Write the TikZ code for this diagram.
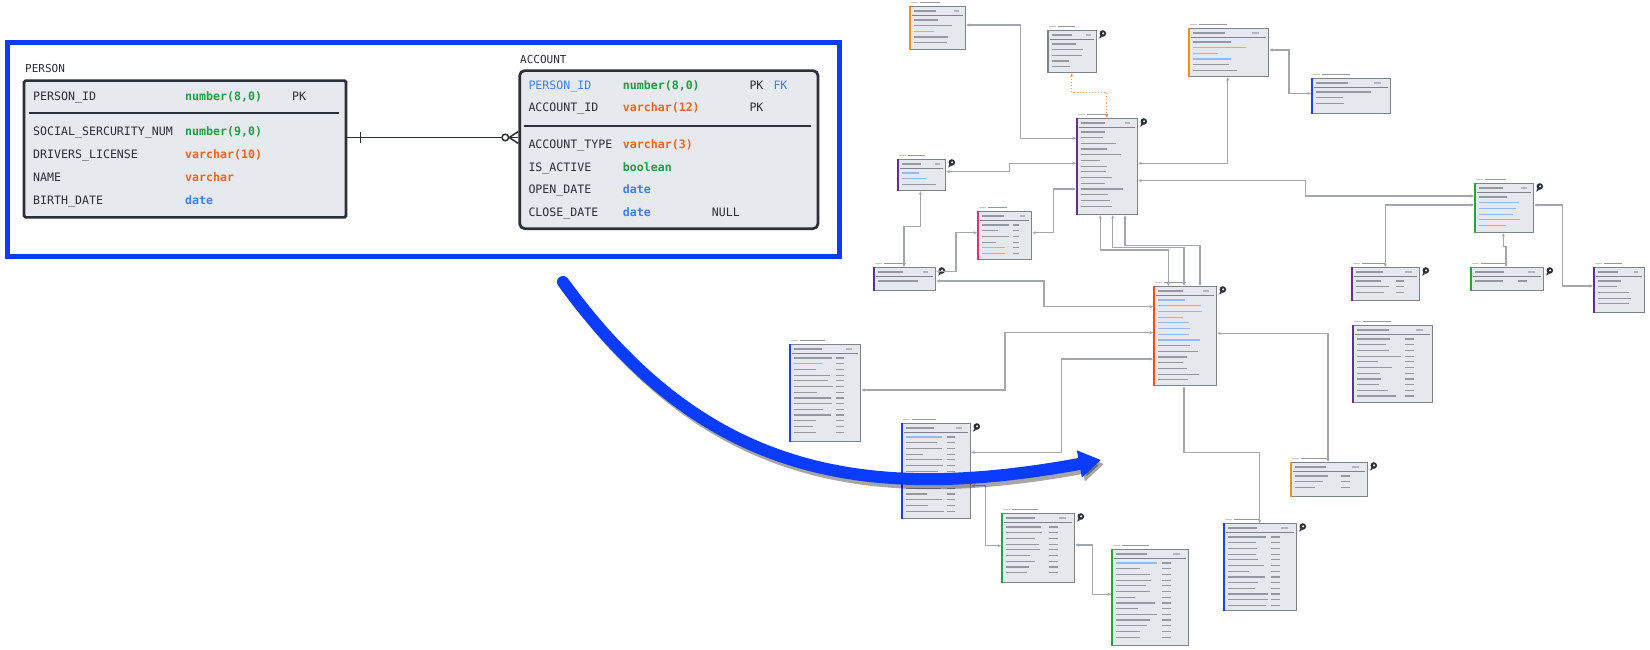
\documentclass[tikz,border=0pt]{standalone}
\usepackage{fontspec}
\usepackage{tikz}
\usetikzlibrary{arrows.meta, positioning, calc}
\newfontfamily\erfont{DejaVu Sans Mono}
\definecolor{FrameBlue}{HTML}{0A3CFF}
\definecolor{Ink}{HTML}{2B2F36}
\definecolor{BoxFill}{HTML}{E6EAEF}
\definecolor{TypeGreen}{HTML}{1E9E45}
\definecolor{TypeOrange}{HTML}{F0641E}
\definecolor{TypeBlue}{HTML}{3F7FF2}
\definecolor{MiniFill}{HTML}{E5E9ED}
\definecolor{MiniLine}{HTML}{7E838B}
\definecolor{RowGray}{HTML}{9499A0}
\definecolor{WireGray}{HTML}{A3A7AD}
\definecolor{Amber}{HTML}{F29111}
\definecolor{Plum}{HTML}{6B2A8F}
\definecolor{Magenta}{HTML}{D6338A}
\definecolor{Vermilion}{HTML}{F04E1E}
\definecolor{Leaf}{HTML}{2EA043}
\definecolor{Royal}{HTML}{1F3FE0}
\definecolor{Peach}{HTML}{F5A05A}

% mini table: name, corner, width, height, accent, type column, first/last blue row, bubble
\newcommand{\minitable}[9]{%
  \node[minitbl, minimum width=#3, minimum height=#4] (#1) at (#2) {};
  \fill[#5] (#1.north west) rectangle ([xshift=2.4]#1.south west);
  \draw[rowbar, draw=MiniLine!45] ([shift={(2,-3.5)}]#1.north west) -- ++(7,0);
  \draw[rowbar] ([shift={(11,-3.5)}]#1.north west) -- ++(0.35*#3,0);
  \draw[rowbar, line width=1.4] ([shift={(5,5)}]#1.north west) -- ++(0.4*#3,0);
  \draw[rowbar, draw=MiniLine!60] ([shift={(0.8*#3,5)}]#1.north west) -- ++(0.09*#3,0);
  \draw[MiniLine, line width=0.9] ([shift={(3,9)}]#1.north west) -- ([shift={(-3,9)}]#1.north east);
  \pgfmathtruncatemacro\nrows{(#4-18)/5.7+1}
  \foreach \r in {1,...,\nrows}{
    \pgfmathsetmacro\rowy{14+(\r-1)*5.7}
    \pgfmathsetmacro\barlen{(#6==1 ? 0.25+0.3*rnd : 0.3+0.4*rnd)*#3}
    \pgfmathtruncatemacro\bluerow{and(\r>=#7,\r<=#8)}
    \ifnum\bluerow=1 \def\rowcol{TypeBlue!55}\else\def\rowcol{RowGray}\fi
    \draw[rowbar, draw=\rowcol] ([shift={(5,\rowy)}]#1.north west) -- ++(\barlen,0);
    \ifnum#6=1 \draw[rowbar] ([shift={(0.66*#3,\rowy)}]#1.north west) -- ++(0.12*#3,0);\fi
  }
  \ifnum#9=1
    \fill[Ink] ([shift={(5.5,3.5)}]#1.north east) circle (3.3);
    \fill[Ink] ([shift={(3,5.5)}]#1.north east) -- ++(-1.2,3) -- ++(3.2,-1.6) -- cycle;
    \fill[white] ([shift={(5.8,3.3)}]#1.north east) circle (1.1);
  \fi
}

\begin{document}
\begin{tikzpicture}[x=1pt, y=-1pt,
    col/.style={font=\erfont\fontsize{11.6}{14}\selectfont, text=Ink, inner sep=0, anchor=base west},
    typ/.style={col, font=\erfont\bfseries\fontsize{11.6}{14}\selectfont},
    tag/.style={col, font=\erfont\fontsize{11}{13}\selectfont},
    erbox/.style={draw=Ink, line width=2.7, fill=BoxFill, inner sep=0, anchor=north west},
    relline/.style={draw=Ink, line width=1.5},
    minitbl/.style={draw=MiniLine, line width=1.3, fill=MiniFill, inner sep=0, anchor=north west, rectangle},
    rowbar/.style={draw=RowGray, line width=1.2},
    wire/.style={draw=WireGray, line width=1.1, arrows={Stealth[length=3.5pt,width=3.2pt]-Stealth[length=3.5pt,width=3.2pt]}},
    dotwire/.style={wire, draw=Peach, dotted, line width=1.2},
    sweep/.style={line width=12, line cap=round, -{Triangle[length=22pt,width=26pt]}}]
\useasboundingbox (0,0) rectangle (1650,650);
\pgfmathsetseed{42}

% Focus frame
\draw[FrameBlue, line width=5] (7,42.5) rectangle (839,256);

% PERSON
\node[tag] (person-lbl) at (25,72.7) {PERSON};
\node[erbox, rounded corners=1.5, minimum width=322, minimum height=136.7] (person) at (22.7,79.3) {};
\draw[Ink, line width=1.8] (29,113.3) -- (339,113.3);
\node[col] (p-id) at (33,101) {PERSON\_ID};
\node[typ, text=TypeGreen] (p-id-t) at (185,101) {number(8,0)};
\node[col] (p-id-k) at (292,101) {PK};
\node[col] (p-ssn) at (33,136) {SOCIAL\_SERCURITY\_NUM};
\node[typ, text=TypeGreen] (p-ssn-t) at (185,136) {number(9,0)};
\node[col] (p-dl) at (33,159) {DRIVERS\_LICENSE};
\node[typ, text=TypeOrange] (p-dl-t) at (185,159) {varchar(10)};
\node[col] (p-name) at (33,181.7) {NAME};
\node[typ, text=TypeOrange] (p-name-t) at (185,181.7) {varchar};
\node[col] (p-bd) at (33,204.3) {BIRTH\_DATE};
\node[typ, text=TypeBlue] (p-bd-t) at (185,204.3) {date};

% ACCOUNT
\node[tag] (account-lbl) at (520,63.3) {ACCOUNT};
\node[erbox, rounded corners=5, minimum width=298.4, minimum height=158] (account) at (518.3,69.3) {};
\draw[Ink, line width=1.8] (524,125.7) -- (811,125.7);
\node[col, text=TypeBlue] (a-pid) at (528.3,90) {PERSON\_ID};
\node[typ, text=TypeGreen] (a-pid-t) at (622.7,90) {number(8,0)};
\node[col] (a-pid-k) at (749.3,90) {PK};
\node[col, text=TypeBlue] (a-pid-f) at (773.3,90) {FK};
\node[col] (a-id) at (528.3,112) {ACCOUNT\_ID};
\node[typ, text=TypeOrange] (a-id-t) at (622.7,112) {varchar(12)};
\node[col] (a-id-k) at (749.3,112) {PK};
\node[col] (a-type) at (528.3,148.7) {ACCOUNT\_TYPE};
\node[typ, text=TypeOrange] (a-type-t) at (622.7,148.7) {varchar(3)};
\node[col] (a-act) at (528.3,171.3) {IS\_ACTIVE};
\node[typ, text=TypeGreen] (a-act-t) at (622.7,171.3) {boolean};
\node[col] (a-open) at (528.3,193.7) {OPEN\_DATE};
\node[typ, text=TypeBlue] (a-open-t) at (622.7,193.7) {date};
\node[col] (a-close) at (528.3,216.3) {CLOSE\_DATE};
\node[typ, text=TypeBlue] (a-close-t) at (622.7,216.3) {date};
\node[col] (a-close-n) at (711.7,216.3) {NULL};

% One-to-many relationship
\coordinate (rel-a) at (person.east |- 0,137.5);
\coordinate (rel-b) at (account.west |- 0,137.5);
\draw[relline] (rel-a) -- (rel-b);
\draw[relline] ([xshift=13]rel-a) ++(0,-5.5) -- ++(0,11);
\draw[relline] ([xshift=-9]rel-b) -- ([yshift=-6]rel-b) ([xshift=-9]rel-b) -- ([yshift=6]rel-b);
\draw[relline, fill=white] ([xshift=-13]rel-b) circle (3.3);

% Full schema
\minitable{t1}{909,6}{56}{43}{Amber}{0}{3}{3}{0}
\minitable{t2}{1047,30}{49}{42}{MiniLine}{0}{0}{0}{1}
\minitable{t3}{1188,28}{80}{48}{Amber}{0}{2}{4}{0}
\minitable{t4}{1076,118}{61}{96}{Plum}{0}{0}{0}{1}
\minitable{t5}{897,159}{48}{31}{Plum}{0}{1}{2}{1}
\minitable{t6}{977,211}{54}{48}{Magenta}{1}{5}{6}{0}
\minitable{t7}{873,267}{62}{23}{Plum}{0}{0}{0}{1}
\minitable{t8}{1153,286}{63}{99}{Vermilion}{0}{1}{8}{1}
\minitable{t9}{1351,267}{68}{33}{Plum}{1}{0}{0}{1}
\minitable{t10}{1470,267}{73}{23}{Leaf}{1}{0}{0}{1}
\minitable{t11}{1593,267}{51}{45}{Plum}{0}{0}{0}{0}
\minitable{t12}{1352,325}{80}{77}{Plum}{1}{0}{0}{0}
\minitable{t13}{1290,462}{77}{34}{Amber}{1}{0}{0}{1}
\minitable{t14}{1474,183}{59}{49}{Leaf}{0}{2}{6}{1}
\minitable{t15}{1311,78}{79}{35}{Royal}{0}{0}{0}{0}
\minitable{t16}{789,344}{71}{97}{Royal}{1}{2}{2}{0}
\minitable{t17}{901,423}{69}{95}{Royal}{1}{1}{1}{1}
\minitable{t18}{1001,513}{73}{69}{Leaf}{1}{0}{0}{1}
\minitable{t19}{1111,549}{77}{96}{Leaf}{1}{1}{1}{0}
\minitable{t20}{1223,523}{73}{87}{Royal}{1}{0}{0}{1}

% Links
\draw[wire] (t1.east |- 0,25) -| (1020.7,138.3) -- (t4.west |- 0,138.3);
\draw[dotwire] (t2.south -| 1071.7,0) |- (1106.7,92.3) -- (t4.north -| 1106.7,0);
\draw[wire] (t5.east |- 0,171.7) -| (1009.3,163.3) -- (t4.west |- 0,163.3);
\draw[wire] (t6.east |- 0,232.7) -| (1053.3,189) -- (t4.west |- 0,189);
\draw[wire] (t3.south -| 1227.7,0) |- (t4.east |- 0,163.3);
\draw[wire] (t4.east |- 0,180.7) -| (1305.7,196) -- (t14.west |- 0,196);
\draw[wire] (t5.south -| 920.3,0) |- (904,226.7) -- (t7.north -| 904,0);
\draw[wire] (t7.east |- 0,271.7) -| (956,232.7) -- (t6.west |- 0,232.7);
\draw[wire] (t4.south -| 1100.3,0) |- (1168.3,250) -- (t8.north -| 1168.3,0);
\draw[wire] (t4.south -| 1112.7,0) |- (1184,247.3) -- (t8.north -| 1184,0);
\draw[wire] (t4.south -| 1125,0) |- (1200,245.7) -- (t8.north -| 1200,0);
\draw[wire] (t7.east |- 0,281) -| (1044,306.7) -- (t8.west |- 0,306.7);
\draw[wire] (t16.east |- 0,390) -| (1005,332.7) -- (t8.west |- 0,332.7);
\draw[wire] (t17.east |- 0,452.3) -| (1061.7,359) -- (t8.west |- 0,359);
\draw[wire] (t8.south -| 1184,0) |- (1259.7,452.3) -- (t20.north -| 1259.7,0);
\draw[wire] (t8.east |- 0,333.3) -| (t13.north -| 1328,0);
\draw[wire] (t14.west |- 0,205) -| (t9.north -| 1385.3,0);
\draw[wire] (t14.south -| 1503.3,0) |- (1506,246.7) -- (t10.north -| 1506,0);
\draw[wire] (t14.east |- 0,205) -| (1562.7,286) -- (t11.west |- 0,286);
\draw[wire] (t3.east |- 0,50) -| (1289,93.3) -- (t15.west |- 0,93.3);
\draw[wire] (t17.east |- 0,485.7) -| (985.7,545.7) -- (t18.west |- 0,545.7);
\draw[wire] (t18.east |- 0,545) -| (1092.3,594.3) -- (t19.west |- 0,594.3);

% Zoom-out arrow
\draw[sweep, black, opacity=0.35, shift={(3,4)}] (563,282) .. controls (700,470) and (855,505) .. (1101,460);
\draw[sweep, FrameBlue] (563,282) .. controls (700,470) and (855,505) .. (1101,460);
\end{tikzpicture}
\end{document}
